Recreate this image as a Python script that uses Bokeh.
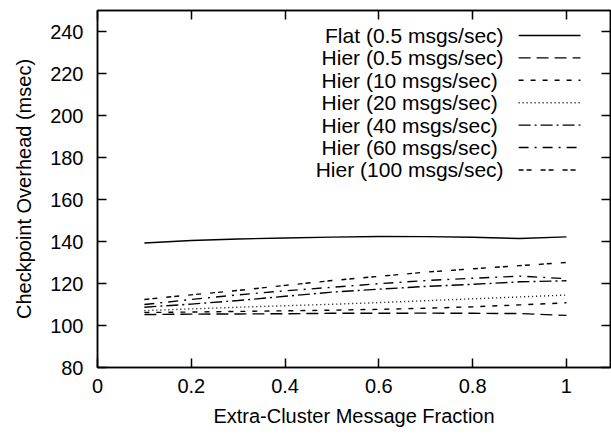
from bokeh.plotting import figure
from bokeh.models import Range1d, LinearAxis, FixedTicker
from bokeh.core.properties import value
from bokeh.embed import file_html
from bokeh.resources import INLINE

# ---- data ----
frac = [0.1, 0.2, 0.3, 0.4, 0.5, 0.6, 0.7, 0.8, 0.9, 1.0]
flat_05 = [139.3, 140.5, 141.2, 141.7, 142.1, 142.4, 142.3, 142.0, 141.4, 142.2]
hier_05 = [105.2, 105.4, 105.5, 105.6, 105.8, 105.8, 105.9, 105.8, 105.7, 104.8]
hier_10 = [106.2, 106.4, 106.7, 107.0, 107.3, 107.7, 108.2, 108.9, 109.8, 110.8]
hier_20 = [107.1, 107.9, 108.7, 109.4, 110.1, 110.9, 111.8, 112.7, 113.6, 114.5]
hier_40 = [108.7, 110.2, 111.9, 113.9, 115.9, 117.3, 118.6, 119.6, 120.8, 121.3]
hier_60 = [110.0, 112.4, 114.6, 116.5, 118.2, 119.9, 121.4, 122.5, 123.5, 122.3]
hier_100 = [112.4, 114.6, 116.7, 119.1, 121.4, 123.4, 125.4, 127.0, 128.5, 130.0]

series_labels = ["Flat (0.5 msgs/sec)", "Hier (0.5 msgs/sec)", "Hier  (10 msgs/sec)",
                 "Hier  (20 msgs/sec)", "Hier  (40 msgs/sec)", "Hier  (60 msgs/sec)",
                 "Hier (100 msgs/sec)"]
series_values = [flat_05, hier_05, hier_10, hier_20, hier_40, hier_60, hier_100]
dashes = ["solid", "12 6", "5 7", "1 3", "12 4 2 4", "10 6 2 6", "5 3 5 9"]

x_ticks = [0, 0.2, 0.4, 0.6, 0.8, 1.0]
x_tick_labels = ["0", "0.2", "0.4", "0.6", "0.8", "1"]
y_ticks = [80, 100, 120, 140, 160, 180, 200, 220, 240]

FONT = "Liberation Sans"
FS = "20px"
LEG_FS = "21px"

p = figure(width=611, height=434, output_backend="svg", toolbar_location=None,
           x_range=Range1d(0, 1.094), y_range=Range1d(80, 250),
           min_border_left=97, min_border_right=1, min_border_top=10, min_border_bottom=67,
           x_axis_label="Extra-Cluster Message Fraction",
           y_axis_label="Checkpoint Overhead (msec)")
p.background_fill_color = "white"
p.border_fill_color = "white"
p.grid.visible = False
p.outline_line_color = "black"
p.outline_line_width = 1.5

p.xaxis.ticker = FixedTicker(ticks=x_ticks)
p.xaxis.major_label_overrides = {t: s for t, s in zip(x_ticks, x_tick_labels)}
p.yaxis.ticker = FixedTicker(ticks=y_ticks)

for ax in [p.xaxis[0], p.yaxis[0]]:
    ax.axis_line_color = "black"
    ax.axis_line_width = 1.5
    ax.major_tick_line_color = "black"
    ax.major_tick_line_width = 1.5
    ax.major_tick_in = 9
    ax.major_tick_out = 0
    ax.minor_tick_line_color = None
    ax.major_label_text_font = FONT
    ax.major_label_text_font_size = FS
    ax.major_label_text_color = "black"
    ax.axis_label_text_font = FONT
    ax.axis_label_text_font_size = FS
    ax.axis_label_text_font_style = "normal"
    ax.axis_label_text_color = "black"

p.xaxis.major_label_standoff = 11
p.xaxis.axis_label_standoff = 9
p.yaxis.major_label_standoff = 14
p.yaxis.axis_label_standoff = 12

# mirrored ticks (top / right)
top = LinearAxis(ticker=FixedTicker(ticks=x_ticks))
right = LinearAxis(ticker=FixedTicker(ticks=y_ticks))
for ax in [top, right]:
    ax.axis_line_color = "black"
    ax.axis_line_width = 1.5
    ax.major_tick_line_color = "black"
    ax.major_tick_line_width = 1.5
    ax.major_tick_in = 9
    ax.major_tick_out = 0
    ax.minor_tick_line_color = None
    ax.major_label_text_font_size = "0px"
    ax.major_label_text_alpha = 0
    ax.major_label_standoff = 0
p.add_layout(top, "above")
p.add_layout(right, "right")

for vals, dash in zip(series_values, dashes):
    p.line(frac, vals, line_color="black", line_width=1.4, line_dash=dash)

# legend (text right-aligned, sample to the right)
leg_y = [238.1 - 10.67 * i for i in range(len(series_labels))]
p.text(x=[0.866] * len(series_labels), y=leg_y, text=series_labels,
       text_font=value(FONT), text_font_size=LEG_FS, text_align="right",
       text_baseline="middle", text_color="black")
for yy, dash in zip(leg_y, dashes):
    p.segment(x0=[0.898], y0=[yy], x1=[1.03], y1=[yy], line_color="black",
              line_width=1.4, line_dash=dash)

open("out.html", "w").write(file_html(p, INLINE))
